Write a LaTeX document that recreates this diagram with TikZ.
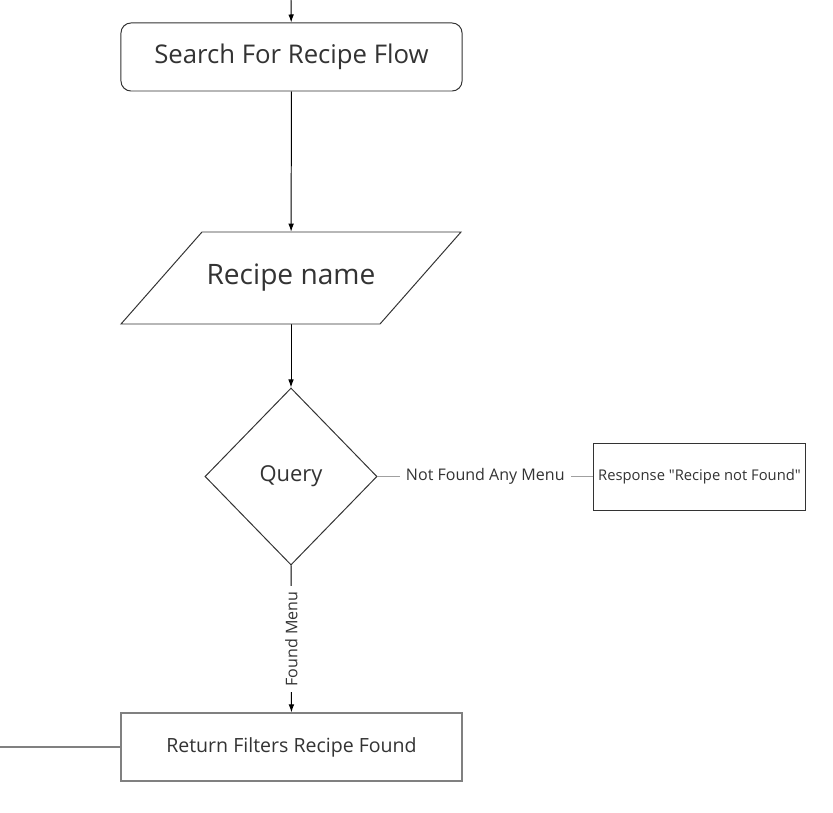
\documentclass[tikz,border=0pt]{standalone}
\usepackage{fontspec}
\setmainfont{Open Sans}
\usepackage{xcolor}
\usepackage{tikz}
\usetikzlibrary{arrows.meta}
\usetikzlibrary{backgrounds}
\usetikzlibrary{shapes,shapes.geometric}
\usetikzlibrary{positioning}
\pgfdeclarelayer{edgelayer}
\pgfdeclarelayer{nodelayer}
\pgfsetlayers{background,edgelayer,nodelayer,main}
\definecolor{inkgray}{HTML}{333333}
\definecolor{boxgray}{HTML}{808080}
\definecolor{linegray}{HTML}{A0A0A0}
\tikzstyle{none}=[inner sep=0mm]
\tikzstyle{flow}=[shape=rectangle,rounded corners=0.25cm,draw=inkgray,line width=0.7pt,fill=white,minimum width=8.525cm,minimum height=1.7cm,text=inkgray,font=\fontsize{18.3}{22}\selectfont]
\tikzstyle{io}=[draw=inkgray,line width=0.7pt,fill=white]
\tikzstyle{iotext}=[inner sep=0mm,minimum width=6.475cm,minimum height=2.3cm,text=inkgray,font=\fontsize{20}{24}\selectfont]
\tikzstyle{query}=[shape=diamond,draw=inkgray,line width=0.7pt,fill=white,inner sep=0mm,minimum width=4.3cm,minimum height=4.425cm,text=inkgray,font=\fontsize{15.6}{19}\selectfont]
\tikzstyle{result}=[shape=rectangle,draw=boxgray,line width=0.8pt,fill=white,minimum width=8.525cm,minimum height=1.7cm,text=inkgray,font=\fontsize{13.9}{17}\selectfont]
\tikzstyle{reply}=[shape=rectangle,draw=inkgray,line width=0.7pt,fill=white,minimum width=5.275cm,minimum height=1.675cm,text=inkgray,font=\fontsize{10.5}{13}\selectfont]
\tikzstyle{diredge}=[-{Latex[length=2mm,width=1.4mm]},line width=0.7pt,draw=black]
\tikzstyle{plain}=[line width=0.7pt,draw=linegray]
\tikzstyle{exit}=[line width=0.8pt,draw=boxgray]
\tikzstyle{lbl}=[fill=white,inner sep=1.5mm,text=inkgray,font=\fontsize{11.4}{14}\selectfont]

\begin{document}
\begin{tikzpicture}[x=0.025cm,y=-0.025cm]
	\useasboundingbox (0,0) rectangle (833,813);
	\begin{pgfonlayer}{nodelayer}
		\node [style=flow] (search) at (291.5, 57) {Search For Recipe Flow};
		\draw [style=io] (202, 232) -- (461, 232) -- (380, 324) -- (121, 324) -- cycle;
		\node [style=iotext] (name) at (291, 278) {Recipe name};
		\node [style=query] (query) at (291, 476.5) {Query};
		\node [style=reply] (notfound) at (699.5, 476.5) {Response \textquotedbl Recipe not Found\textquotedbl};
		\node [style=result] (found) at (291.5, 747) {Return Filters Recipe Found};
		\coordinate (entry) at (291, 0);
		\coordinate (out) at (0, 747);
	\end{pgfonlayer}
	\begin{pgfonlayer}{edgelayer}
		\draw [style=diredge] (entry) to (search);
		\draw [style=diredge] (search) to (name);
		\draw [style=diredge] (name) to (query);
		\draw [style=plain] (query) to node [style=lbl] {Not Found Any Menu} (notfound);
		\draw [style=diredge] (query) to node [style=lbl, rotate=90] {Found Menu} (found);
		\draw [style=exit] (found) to (out);
	\end{pgfonlayer}
\end{tikzpicture}
\end{document}
